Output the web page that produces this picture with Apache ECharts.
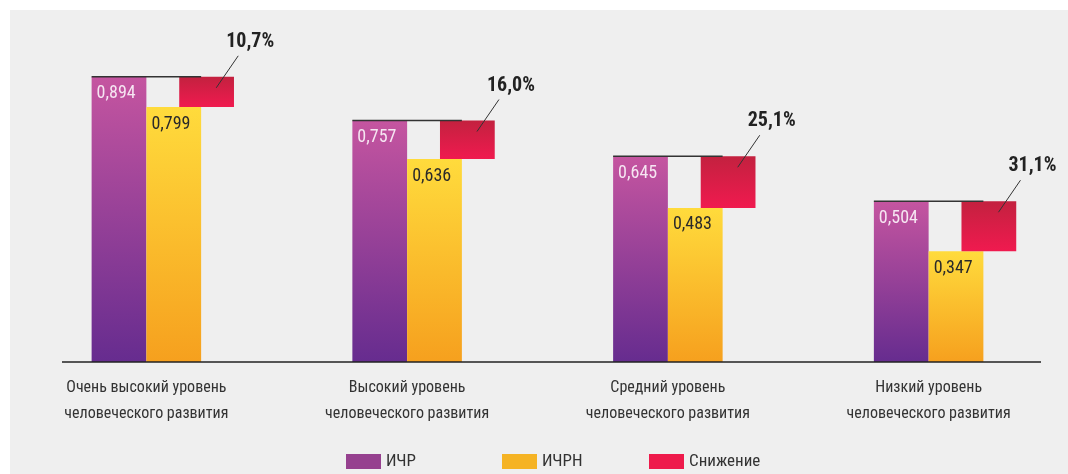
<!DOCTYPE html>
<html>
<head>
<meta charset="utf-8">
<script src="https://cdn.jsdelivr.net/npm/echarts@6/dist/echarts.min.js"></script>
<style>
  html, body { margin: 0; padding: 0; background: #fff; }
  #chart { width: 1068px; height: 474px; }
</style>
</head>
<body>
<div id="chart"></div>
<script>
const FONT = '"Roboto Condensed", "Liberation Sans Narrow", sans-serif';

const categories = [
  "Очень высокий уровень\nчеловеческого развития",
  "Высокий уровень\nчеловеческого развития",
  "Средний уровень\nчеловеческого развития",
  "Низкий уровень\nчеловеческого развития",
];
const hdi = [0.894, 0.757, 0.645, 0.504];
const ihdi = [0.799, 0.636, 0.483, 0.347];
const lossPct = ["10,7%", "16,0%", "25,1%", "31,1%"];

const fmt = (v) => v.toFixed(3).replace(".", ",");

function grad(top, bottom) {
  return new echarts.graphic.LinearGradient(0, 0, 0, 1, [
    { offset: 0, color: top },
    { offset: 1, color: bottom },
  ]);
}

function barGeom(api, v) {
  const i = api.value(0);
  const top = api.coord([i, v]);
  const base = api.coord([i, 0]);
  const band = api.size([1, 0])[0];
  return { cx: top[0], top: top[1], base: base[1], w: band * 0.21 };
}

function renderHdi(params, api) {
  const g = barGeom(api, api.value(1));
  return {
    type: "group",
    children: [
      {
        type: "rect",
        shape: { x: g.cx - g.w, y: g.top, width: g.w, height: g.base - g.top },
        style: { fill: grad("#c555a0", "#662c8f") },
      },
      {
        type: "line",
        shape: { x1: g.cx - g.w, y1: g.top, x2: g.cx + g.w, y2: g.top },
        style: { stroke: "#333", lineWidth: 1.5 },
        z2: 10,
      },
      {
        type: "text",
        style: {
          x: g.cx - g.w + 5, y: g.top + 17, text: fmt(api.value(1)),
          fill: "#f6e6f2", font: "18px " + FONT, align: "left", verticalAlign: "middle",
        },
        z2: 11,
      },
    ],
  };
}

function renderIhdi(params, api) {
  const g = barGeom(api, api.value(1));
  return {
    type: "group",
    children: [
      {
        type: "rect",
        shape: { x: g.cx, y: g.top, width: g.w, height: g.base - g.top },
        style: { fill: grad("#ffdb3c", "#f6a01e") },
      },
      {
        type: "text",
        style: {
          x: g.cx + 5, y: g.top + 17, text: fmt(api.value(1)),
          fill: "#2a2a2a", font: "18px " + FONT, align: "left", verticalAlign: "middle",
        },
        z2: 11,
      },
    ],
  };
}

function renderLoss(params, api) {
  const i = api.value(0);
  const g = barGeom(api, api.value(2));
  const bottom = api.coord([i, api.value(1)])[1];
  const left = g.cx + g.w * 0.6;
  return {
    type: "group",
    children: [
      {
        type: "rect",
        shape: { x: left, y: g.top, width: g.w, height: bottom - g.top },
        style: { fill: grad("#c3213f", "#f01a4f") },
      },
      {
        type: "line",
        shape: { x1: left + 37, y1: g.top + 11, x2: left + 59, y2: g.top - 21 },
        style: { stroke: "#333", lineWidth: 1 },
        z2: 10,
      },
      {
        type: "text",
        style: {
          x: left + 71, y: g.top - 35, text: lossPct[params.dataIndex],
          fill: "#222", font: "bold 20px " + FONT, align: "center", verticalAlign: "middle",
        },
        z2: 11,
      },
    ],
  };
}

const chart = echarts.init(document.getElementById("chart"));

const legendBase = {
  top: 448,
  itemWidth: 35,
  itemHeight: 15,
  icon: "rect",
  textStyle: { fontFamily: FONT, fontSize: 17, color: "#333" },
};

chart.setOption({
  animation: false,
  backgroundColor: "#fff",
  graphic: [
    {
      type: "rect", z: -10, silent: true,
      shape: { x: 10, y: 10, width: 1058, height: 464 },
      style: { fill: "#efefef" },
    },
    {
      type: "line", z: 10, silent: true,
      shape: { x1: 62, y1: 362, x2: 1041, y2: 362 },
      style: { stroke: "#222", lineWidth: 1.6 },
    },
  ],
  legend: [
    Object.assign({}, legendBase, { left: 341, data: [{ name: "ИЧР", itemStyle: { color: "#96418f" } }] }),
    Object.assign({}, legendBase, { left: 497, data: [{ name: "ИЧРН", itemStyle: { color: "#f5b324" } }] }),
    Object.assign({}, legendBase, { left: 644, data: [{ name: "Снижение", itemStyle: { color: "#ee1a4b" } }] }),
  ],
  grid: { left: 16, right: 9, top: 43, bottom: 112 },
  xAxis: {
    type: "category",
    data: categories,
    axisLine: { show: false },
    axisTick: { show: false },
    axisLabel: {
      margin: 13,
      fontFamily: FONT,
      fontSize: 16,
      lineHeight: 26,
      color: "#333",
      interval: 0,
    },
  },
  yAxis: { type: "value", min: 0, max: 1, show: false },
  series: [
    {
      name: "ИЧР", type: "custom", renderItem: renderHdi,
      itemStyle: { color: "#96418f" },
      encode: { x: 0, y: 1 },
      data: hdi.map((v, i) => [i, v]),
    },
    {
      name: "ИЧРН", type: "custom", renderItem: renderIhdi,
      itemStyle: { color: "#f5b324" },
      encode: { x: 0, y: 1 },
      data: ihdi.map((v, i) => [i, v]),
    },
    {
      name: "Снижение", type: "custom", renderItem: renderLoss,
      itemStyle: { color: "#ee1a4b" },
      encode: { x: 0, y: [1, 2] },
      data: ihdi.map((v, i) => [i, v, hdi[i]]),
    },
  ],
});

window.addEventListener("resize", () => chart.resize());
</script>
</body>
</html>
